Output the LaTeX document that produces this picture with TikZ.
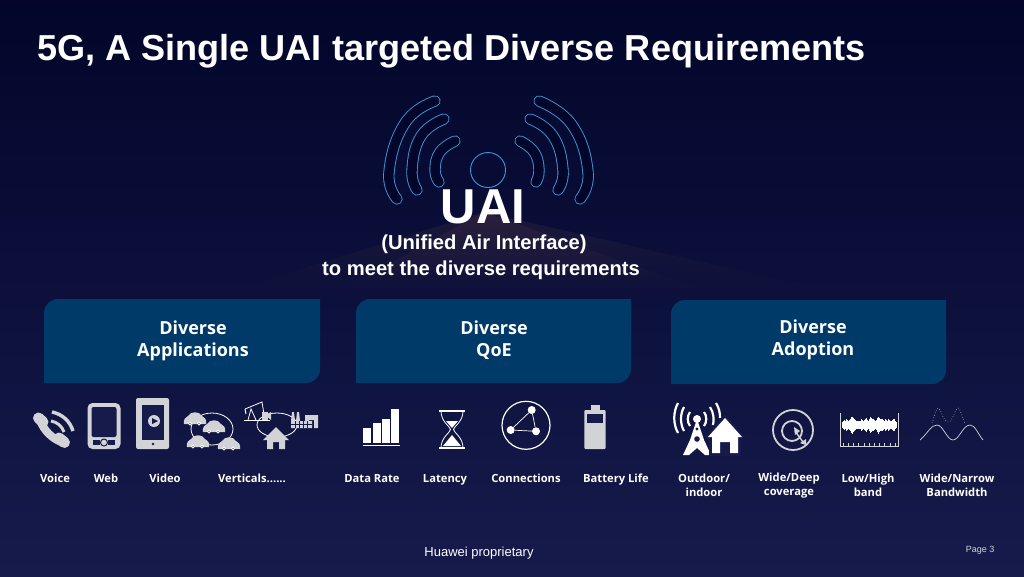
\documentclass[tikz,border=0pt]{standalone}
\usepackage{fontspec}
\setmainfont{Liberation Sans}
\newfontfamily\labelfont{Open Sans}
\usepackage{tikz}
\usetikzlibrary{fadings}
\definecolor{skytop}{HTML}{03062A}
\definecolor{skymid}{HTML}{0A0E38}
\definecolor{skylow}{HTML}{161B4C}
\definecolor{boxblue}{HTML}{003A68}
\definecolor{wifiblue}{HTML}{3A9AD9}
\definecolor{icongray}{HTML}{D2D3D6}
\definecolor{glowtone}{HTML}{9A6050}
\tikzstyle{boxtext} = [text=white, align=center, inner sep=0pt,
    font=\labelfont\bfseries\fontsize{18}{22}\selectfont]
\tikzstyle{smalltext} = [text=white, align=center, inner sep=0pt, text height=8pt, text depth=2.5pt,
    font=\labelfont\bfseries\fontsize{11.2}{13.5}\selectfont]
\tikzstyle{twolines} = [text=white, align=center, inner sep=0pt,
    font=\labelfont\bfseries\fontsize{11.2}{13.5}\selectfont]
\tikzstyle{wifiband} = [draw=wifiblue, line width=.9pt, double=skytop, double distance=9.5pt, line cap=round]
\newcommand{\carshape}[2]{%
    \fill[icongray] (#1-11,#2+6) .. controls (#1-12,#2+1) and (#1-9,#2-1) .. (#1-7,#2-2)
        .. controls (#1-4,#2-7) and (#1+4,#2-7) .. (#1+7,#2-2)
        .. controls (#1+9,#2-1) and (#1+12,#2+1) .. (#1+11,#2+6) -- cycle;
    \draw[white, line width=.7pt, fill=gray] (#1-5,#2+5.5) circle (1.7);
    \draw[white, line width=.7pt, fill=gray] (#1+4,#2+5.5) circle (1.7);
}
\newcommand{\tabshape}[3]{%
    \fill[boxblue] (#1,#3) -- (#1,#3-70) .. controls (#1,#3-78) and (#1+6,#3-84) .. (#1+14,#3-84)
        -- (#2,#3-84) -- (#2,#3-14) .. controls (#2,#3-6) and (#2-6,#3) .. (#2-14,#3) -- cycle;
}
\begin{document}
\begin{tikzpicture}[x=1pt,y=-1pt]
    \useasboundingbox (0,0) rectangle (1024,576);
    \shade[top color=skytop, bottom color=skymid] (0,0) rectangle (1024,240);
    \shade[top color=skymid, bottom color=skylow] (0,240) rectangle (1024,576);
    % faint road behind the text
    \fill[glowtone, opacity=.13, path fading=south] (484,212) -- (215,296) -- (850,296) -- cycle;
    \fill[glowtone, opacity=.13, path fading=south] (484,212) -- (330,296) -- (720,296) -- cycle;
    % antenna
    \draw[wifiblue, line width=.9pt] (488,170) circle (17.5);
    \draw[wifiband] plot[smooth, tension=.8] coordinates {(435,101) (405,123) (389,172) (397,199)};
    \draw[wifiband] plot[smooth, tension=.8] coordinates {(444,119) (421,136) (412,170) (417,190)};
    \draw[wifiband] plot[smooth, tension=.8] coordinates {(455,141) (440,152) (435,170) (439,182)};
    \draw[wifiband] plot[smooth, tension=.8] coordinates {(539,101) (572,125) (588,172) (580,199)};
    \draw[wifiband] plot[smooth, tension=.8] coordinates {(530,119) (553,136) (563,170) (558,190)};
    \draw[wifiband] plot[smooth, tension=.8] coordinates {(520,141) (534,152) (539,170) (536,182)};
    % header
    \node[anchor=base west, inner sep=0pt, text=white, font=\bfseries\fontsize{36.1}{40}\selectfont] (title) at (37,60) {5G, A Single UAI targeted Diverse Requirements};
    \node[anchor=base, inner sep=0pt, text=white, font=\bfseries\fontsize{49}{56}\selectfont] (uai) at (483,223) {UAI};
    \node[anchor=base, inner sep=0pt, text=white, font=\bfseries\fontsize{20.2}{22}\selectfont] (unified) at (484,249) {(Unified Air Interface)};
    \node[anchor=base, inner sep=0pt, text=white, font=\bfseries\fontsize{20.2}{22}\selectfont] (meet) at (481,275) {to meet the diverse requirements};
    % boxes
    \tabshape{44}{320}{383}
    \tabshape{356}{631}{383}
    \tabshape{671}{946}{384}
    \node[boxtext] (apps) at (193,340.5) {Diverse\\Applications};
    \node[boxtext] (qoe) at (494,340.5) {Diverse\\QoE};
    \node[boxtext] (adoption) at (813,339.5) {Diverse\\Adoption};
    % voice
    \draw[icongray, line width=8pt, line cap=round] (40,420) .. controls (44,431) and (52,438) .. (61,442);
    \draw[icongray, line width=11pt, line cap=round] (38.5,418) -- (43,422);
    \draw[icongray, line width=11pt, line cap=round] (59,438) -- (64.5,442.5);
    \draw[icongray, line width=3pt] (51,421) .. controls (57,422) and (62,426) .. (64,432);
    \draw[icongray, line width=3.5pt] (52,412) .. controls (62,414) and (70,421) .. (73,431);
    % web
    \fill[icongray, rounded corners=5pt] (87.5,403) rectangle (120.5,449);
    \fill[skylow, rounded corners=2pt] (91.5,407) rectangle (116.5,437);
    \fill[skylow] (93,440) rectangle (100,445);
    \fill[skylow] (108,440) rectangle (115,445);
    \draw[skylow, line width=1pt] (104,442.5) circle (3.5);
    % video
    \fill[icongray, rounded corners=2pt] (136,398) rectangle (169,449);
    \fill[skylow] (142,405) rectangle (164,440);
    \fill[icongray] (154,421) circle (6);
    \fill[skylow] (152,418) -- (158,421) -- (152,424) -- cycle;
    \fill[skylow] (153,444) circle (1.3);
    % verticals, cars
    \draw[white, line width=.8pt] (212,429) ellipse (21 and 16);
    \carshape{195}{418}
    \carshape{214}{426}
    \carshape{198}{441}
    \carshape{229}{443}
    % verticals, plant
    \draw[white, line width=.8pt] (277,425) ellipse (20 and 12);
    \draw[white, line width=1.4pt] (244,420.5) -- (270,420.5);
    \draw[white, line width=.8pt] (248,420) -- (251,409) -- (256,420) (245,409) -- (262,402) -- (264,414);
    \draw[white, line width=1pt] (245,409) -- (246,414);
    \fill[icongray] (262,412) rectangle (268,420);
    \fill[icongray] (271,420) -- (265,415) -- (271,412) -- cycle;
    \fill[icongray] (276,427) -- (263,440) -- (267,440) -- (267,449) -- (273,449) -- (273,442) -- (279,442) -- (279,449) -- (285,449) -- (285,440) -- (289,440) -- cycle;
    \fill[icongray] (291,421) -- (292,412) -- (294,412) -- (295,421) -- (296,421) -- (297,412) -- (299,412) -- (300,421) -- (312,421) -- (312,428) -- (291,428) -- cycle;
    \draw[skylow, line width=.5pt] (291,424.5) -- (312,424.5) (295,421) -- (295,428) (299,421) -- (299,428) (303,421) -- (303,428) (307,421) -- (307,428);
    \fill[icongray] (305,415) -- (318,415) -- (318,428) -- (314,428) -- (314,420) -- (309,420) -- (309,421) -- (305,421) -- cycle;
    % data rate
    \fill[white] (363.3,428.3) rectangle (371.3,443.3);
    \fill[white] (372.7,422.7) rectangle (380.7,443.3);
    \fill[white] (382,419) rectangle (390,443.3);
    \fill[white] (391.3,409.3) rectangle (399.3,443.3);
    \draw[white, line width=1.4pt] (362.5,445.7) -- (400,445.7);
    % latency
    \draw[white, line width=1.6pt] (439,411) -- (465,411) (439,448) -- (465,448);
    \draw[white, line width=.8pt] (441,411) .. controls (441,422) and (450,426) .. (450.5,429.5) .. controls (450,433) and (441,437) .. (441,448);
    \draw[white, line width=.8pt] (463,411) .. controls (463,422) and (454,426) .. (453.5,429.5) .. controls (454,433) and (463,437) .. (463,448);
    \fill[white] (446,421) -- (458,421) -- (452,428) -- cycle;
    \fill[white] (452,435) -- (461,446) -- (443,446) -- cycle;
    % connections
    \draw[white, line width=1.2pt] (526,425.3) circle (24);
    \node[circle, fill=white, minimum size=8pt, inner sep=0pt] (peera) at (531.7,410) {};
    \node[circle, fill=white, minimum size=8pt, inner sep=0pt] (peerb) at (510.7,430) {};
    \node[circle, fill=white, minimum size=8pt, inner sep=0pt] (peerc) at (536,431.3) {};
    \draw[white, line width=.7pt] (peera) -- (peerb) -- (peerc) -- (peera);
    % battery
    \fill[icongray] (590.7,405) rectangle (600,411);
    \fill[icongray, rounded corners=1pt] (584.3,410) rectangle (605.7,449);
    \fill[skylow] (586.7,414) rectangle (603.3,423.3);
    % outdoor
    \fill[white] (697,419) -- (690,440) -- (683,455) -- (689,455) -- (697,448) -- (705,455) -- (711,455) -- (704,440) -- cycle;
    \fill[skylow] (697,429) circle (1.7);
    \fill[skylow] (697,439) circle (2.8);
    \fill[white] (697,419) circle (4);
    \draw[white, line width=2.2pt] (690,412) .. controls (687,416) and (687,422) .. (690,426);
    \draw[white, line width=2.2pt] (704,412) .. controls (707,416) and (707,422) .. (704,426);
    \draw[white, line width=2.2pt] (684,407) .. controls (680,414) and (680,424) .. (684,431);
    \draw[white, line width=2.2pt] (710,407) .. controls (714,413) and (714,420) .. (713,425);
    \draw[white, line width=2.2pt] (678,403) .. controls (673,412) and (673,424) .. (678,433);
    \draw[white, line width=2.2pt] (716,403) .. controls (719,408) and (720,412) .. (720,418);
    \fill[skylow] (725,415) -- (705,437) -- (709,441) -- (709,456) -- (741,456) -- (741,441) -- (745,437) -- cycle;
    \fill[white] (725,418) -- (708,437) -- (712,437) -- (712,453) -- (720,453) -- (720,442) -- (730,442) -- (730,453) -- (738,453) -- (738,437) -- (742,437) -- cycle;
    % coverage
    \draw[icongray, line width=1.8pt] (793,430) circle (20);
    \draw[icongray, line width=1.8pt] (792,431) circle (10);
    \draw[icongray, line width=1.4pt] (795,431) -- (803,442);
    \fill[icongray] (794,427) -- (800,431) -- (795,435) -- cycle;
    \fill[icongray] (800,443) -- (806,439) -- (806,445) -- cycle;
    % low and high band
    \draw[icongray, line width=.7pt] (840,413) -- (840,446.5) -- (898,446.5) -- (898,413);
    \foreach \tx/\th in {0/2,1/3,2/5,3/4,4/6,5/5,6/3,7/5,8/7,9/9,10/10,11/8,12/6,13/5,14/3,15/4,16/3,17/3,18/4,19/6,20/5,21/3,22/5,23/7,24/8,25/5,26/4,27/6,28/9,29/8,30/6,31/7,32/5,33/3,34/5,35/8,36/10,37/8,38/6,39/6,40/7,41/5,42/4,43/6,44/5,45/4,46/6,47/5,48/4,49/3,50/5,51/6,52/7,53/3,54/2}
        \draw[white, line width=.8pt] ({842+\tx},{425-\th*.7-1.5}) -- ({842+\tx},{425+\th*.7+1.5});
    \foreach \tx in {0,...,10}
        \draw[icongray, line width=.5pt] ({843+5.2*\tx},446) -- ({843+5.2*\tx},443);
    % bandwidth
    \draw[icongray, line width=.7pt] (920,440) .. controls (928,433) and (931,425) .. (937,425) .. controls (943,425) and (947,440) .. (953,440) .. controls (959,440) and (963,425) .. (970,425) .. controls (975,425) and (978,434) .. (983,440);
    \draw[icongray, line width=.6pt, dotted] (932,423) .. controls (935,415) and (936,408) .. (938,408) .. controls (941,408) and (943,422) .. (948,422) .. controls (953,422) and (955,408) .. (958,408) .. controls (960,408) and (962,416) .. (965,424);
    % labels
    \node[smalltext] (voice) at (55,480) {Voice};
    \node[smalltext] (web) at (106,480) {Web};
    \node[smalltext] (video) at (165,480) {Video};
    \node[smalltext] (verticals) at (252,480) {Verticals......};
    \node[smalltext] (datarate) at (372,480) {Data Rate};
    \node[smalltext] (latency) at (445,480) {Latency};
    \node[smalltext] (connections) at (526,480) {Connections};
    \node[smalltext] (batterylife) at (616,480) {Battery Life};
    \node[twolines] (outdoor) at (704,485.5) {Outdoor/\\indoor};
    \node[twolines] (deep) at (789,485.5) {Wide/Deep\\coverage};
    \node[twolines] (lowhigh) at (868,485.5) {Low/High\\band};
    \node[twolines] (narrow) at (957,485.5) {Wide/Narrow\\Bandwidth};
    % footer
    \node[inner sep=0pt, text=white, font=\fontsize{13}{15}\selectfont] (proprietary) at (479,553) {Huawei proprietary};
    \node[inner sep=0pt, text=icongray, font=\fontsize{9}{11}\selectfont] (pagenum) at (980,550) {Page 3};
\end{tikzpicture}
\end{document}
